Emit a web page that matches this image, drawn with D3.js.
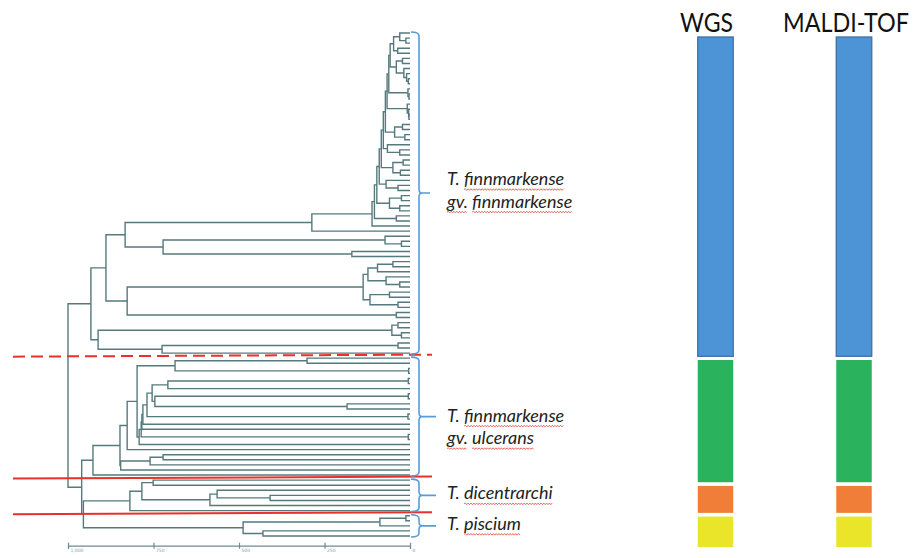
<!DOCTYPE html>
<html>
<head>
<meta charset="utf-8">
<script src="https://cdn.jsdelivr.net/npm/d3@7"></script>
<style>
  html, body { margin: 0; padding: 0; background: #ffffff; }
  svg { display: block; }
</style>
</head>
<body>
<svg id="chart" width="914" height="558"></svg>
<script>
// Distance-level axis of the MSP dendrogram
const distanceTicks = [1000, 750, 500, 250, 0];

// Clades of the dendrogram. Each internal node is [distance level, upper child, lower child];
// a leaf (one isolate) is 0, its own distance level.
const finnmarkenseClade =
[933,
  [889,
    [833,
      [287,
        [111,
          [104,
            [97,
              [90,
                [84,
                  [78,
                    [72,
                      [67,
                        [62,
                          [58,
                            [48, [30, 0, [12, 0, 0]], [36, 0, 0]],
                            [40, [22, 0, 0], [18, 0, [10, 0, [5, 0, 0]]]]
                          ],
                          [6, 0, [3, 0, 0]]
                        ],
                        [8, 0, [4, 0, [3, 0, 0]]]
                      ],
                      [45, [22, 0, 0], [15, 0, 0]]
                    ],
                    [66, 0, [30, 0, 0]]
                  ],
                  [50, [20, 0, 0], [28, 0, 0]]
                ],
                [70, 0, [35, 0, 0]]
              ],
              [60, [25, 0, 0], [30, 0, 0]]
            ],
            [40, 0, 0]
          ],
          0
        ],
        0
      ],
      [722, [73, 0, [25, 0, 0]], [170, 0, 0]]
    ],
    [827,
      [137,
        [123, [95, [50, 0, 0], 0], [70, 0, [30, 0, 0]]],
        [117, [60, 0, 0], [35, 0, 0]]
      ],
      [40, 0, 0]
    ]
  ],
  [912,
    [53, [35, 0, 0], [25, 0, 0]],
    [725, [35, 0, 0], 0]
  ]
];

const ulceransClade =
[927,
  [848,
    [827,
      [798,
        [687, [301, 0, 0], [4, 0, 0]],
        [792,
          [786,
            [784,
              [781,
                [769,
                  [754,
                    [708, [5, 0, 0], 0],
                    [746, [5, 0, 0], [184, 0, 0]]
                  ],
                  [6, 0, 0]
                ],
                0
              ],
              0
            ],
            [5, 0, 0]
          ],
          0
        ]
      ],
      0
    ],
    [846, [760, [722, 0, 0], 0], 0]
  ],
  0
];

const dicentrarchiClade = [819, [784, [751, 0, 0], [585, [564, 0, [409, 0, 0]], 0]], 0];

const pisciumClade = [488, [88, [12, 0, 0], 0], [430, 0, 0]];

// Distance levels at which the clades join, from the root inwards
const joinLevels = [1000, 960, 955];

// Text beside each clade bracket
const cladeLabels = [
  ["T. finnmarkense", "gv. finnmarkense"],
  ["T. finnmarkense", "gv. ulcerans"],
  ["T. dicentrarchi"],
  ["T. piscium"]
];

// Identification methods and the share of isolates (%) they assign to each clade
const methods = ["WGS", "MALDI-TOF"];
const wgsShare = [64, 24.5, 5.4, 6.1];
const maldiShare = [64, 24.5, 5.4, 6.1];

const cladeColors = ["#4d94d6", "#2bb25c", "#f07d38", "#ebe52a"];

// ---------------------------------------------------------------------------
const svg = d3.select("#chart");
const TREE_COLOR = "#56797e";
const BRACE_COLOR = "#5b9bd5";
const SEP_COLOR = "#e8312b";

const clades = [finnmarkenseClade, ulceransClade, dicentrarchiClade, pisciumClade];
const tree = [joinLevels[0], finnmarkenseClade,
              [joinLevels[1], ulceransClade,
                [joinLevels[2], dicentrarchiClade, pisciumClade]]];

const countLeaves = d => Array.isArray(d) ? countLeaves(d[1]) + countLeaves(d[2]) : 1;
const cladeSizes = clades.map(countLeaves);
const cladeStarts = cladeSizes.map((s, i) => d3.sum(cladeSizes.slice(0, i)));

const root = d3.hierarchy(tree, d => Array.isArray(d) ? d.slice(1) : null);
root.each(n => { n.level = Array.isArray(n.data) ? n.data[0] : 0; });

const leaves = root.leaves();
const yLeaf = d3.scalePoint().domain(d3.range(leaves.length)).range([33, 536]);
const xDist = d3.scaleLinear().domain([1000, 0]).range([68, 410]);

leaves.forEach((l, i) => { l.py = yLeaf(i); });
root.eachAfter(n => { if (n.children) n.py = d3.mean(n.children, c => c.py); });
root.each(n => { n.px = xDist(n.level); });

// Dendrogram branches (elbow joins)
const gTree = svg.append("g")
  .attr("fill", "none")
  .attr("stroke", TREE_COLOR)
  .attr("stroke-width", 1.4);

gTree.selectAll("path")
  .data(root.descendants().filter(n => n.children))
  .join("path")
  .attr("d", n => {
    const [a, b] = n.children;
    return `M${a.px},${a.py}H${n.px}V${b.py}H${b.px}`;
  });

// Distance-level axis
const gAxis = svg.append("g")
  .attr("transform", "translate(0,545.7)")
  .call(d3.axisBottom(xDist).tickValues(distanceTicks).tickSizeOuter(0).tickSize(3));
gAxis.select(".domain").attr("stroke", "#6f8c90").attr("stroke-width", 1.2);
gAxis.selectAll(".tick line").attr("y1", -3).attr("y2", 3).attr("stroke", "#6f8c90").attr("stroke-width", 1.2);
gAxis.selectAll(".tick text")
  .attr("text-anchor", "start")
  .attr("x", 2).attr("y", 3).attr("dy", "0.71em")
  .attr("fill", "#8a9a9c")
  .style("font", "4.5px 'DejaVu Sans', sans-serif");

// Clade extents along the leaf axis
const cladeSpan = cladeSizes.map((s, i) => {
  const first = yLeaf(cladeStarts[i]);
  const last = yLeaf(cladeStarts[i] + s - 1);
  return { first, last };
});

// Separator lines between clades
const seps = cladeSpan.slice(0, -1).map((c, i) => ({
  y: (c.last + cladeSpan[i + 1].first) / 2,
  dashed: i === 0
}));
svg.append("g").selectAll("line")
  .data(seps)
  .join("line")
  .attr("x1", 13).attr("x2", 432)
  .attr("y1", d => d.y + 1).attr("y2", d => d.y - 1)
  .attr("stroke", SEP_COLOR)
  .attr("stroke-width", 2)
  .attr("stroke-dasharray", d => d.dashed ? "12,6" : null);

// Curly brackets marking each clade
const braceX0 = 411, braceXV = 419, braceR = 4;
const tipX = [430, 436, 436, 436];
const braces = cladeSpan.map((c, i) => {
  const y0 = c.first - 1, y1 = c.last + 1, ym = (y0 + y1) / 2;
  return { y0, y1, ym, tip: tipX[i] };
});
svg.append("g")
  .attr("fill", "none")
  .attr("stroke", BRACE_COLOR)
  .attr("stroke-width", 1.6)
  .selectAll("path")
  .data(braces)
  .join("path")
  .attr("d", b => {
    const r = Math.min(braceR, (b.y1 - b.y0) / 4);
    return `M${braceX0},${b.y0}Q${braceXV},${b.y0} ${braceXV},${b.y0 + r}` +
           `V${b.ym - r}Q${braceXV},${b.ym} ${braceXV + 3},${b.ym}H${b.tip}` +
           `M${braceXV + 3},${b.ym}Q${braceXV},${b.ym} ${braceXV},${b.ym + r}` +
           `V${b.y1 - r}Q${braceXV},${b.y1} ${braceX0},${b.y1}`;
  });

// Clade labels, word by word so the names can carry a wavy underline
const LABEL_FONT = "italic 18px Lato, 'Open Sans', sans-serif";
const labelX = 447;
const labelShift = [-8, 5, 4, 4];
const lineGap = 22.5;
const gLab = svg.append("g");
const measure = svg.append("text")
  .style("font", LABEL_FONT)
  .attr("visibility", "hidden");
const textW = s => { measure.text(s); return measure.node().getComputedTextLength(); };
const spaceW = textW("a a") - textW("aa");

function squiggle(x0, x1, y) {
  let d = `M${x0},${y}`;
  let up = true;
  for (let x = x0 + 1.4; x <= x1; x += 1.4) {
    d += `L${x},${y + (up ? -0.8 : 0.8)}`;
    up = !up;
  }
  return d;
}

cladeLabels.forEach((lines, i) => {
  lines.forEach((line, j) => {
    const base = braces[i].ym + labelShift[i] + j * lineGap;
    let cx = labelX;
    line.split(" ").forEach(word => {
      const w = textW(word);
      gLab.append("text")
        .attr("x", cx).attr("y", base)
        .attr("fill", "#222222")
        .style("font", LABEL_FONT)
        .text(word);
      if (word !== "T.") {
        gLab.append("path")
          .attr("d", squiggle(cx, cx + w, base + 4.5))
          .attr("fill", "none")
          .attr("stroke", "#e2453c")
          .attr("stroke-width", 0.8);
      }
      cx += w + spaceW;
    });
  });
});
measure.remove();

// Stacked bars: clade shares per identification method
const shares = [wgsShare, maldiShare];
const xMethod = d3.scalePoint().domain(methods).range([715.5, 854]);
const barW = 35.5;
const barGap = 3.7;
const yShare = d3.scaleLinear().domain([0, 100]).range([37, 547 - barGap * 3]);

methods.forEach((m, mi) => {
  const vals = shares[mi];
  const cx = xMethod(m);
  let cum = 0;
  const segs = vals.map((v, i) => {
    const s = { y0: yShare(cum) + i * barGap, y1: yShare(cum + v) + i * barGap, i };
    cum += v;
    return s;
  });
  svg.append("g").selectAll("rect")
    .data(segs)
    .join("rect")
    .attr("x", cx - barW / 2)
    .attr("width", barW)
    .attr("y", s => s.y0)
    .attr("height", s => s.y1 - s.y0)
    .attr("fill", s => cladeColors[s.i])
    .attr("stroke", s => s.i === 0 ? "#3e6fa6" : "none")
    .attr("stroke-width", 1.3);
});

// Method titles above the bars, squeezed horizontally to a narrow title face
const titleDx = [-9, -8];
const titleWidth = [53, 126];
svg.append("g").selectAll("text")
  .data(methods)
  .join("text")
  .attr("text-anchor", "middle")
  .attr("fill", "#111111")
  .style("font", "26px Lato, 'Open Sans', sans-serif")
  .text(m => m)
  .each(function (m, i) {
    const natural = this.getComputedTextLength();
    const k = titleWidth[i] / natural;
    d3.select(this).attr("transform",
      `translate(${xMethod(m) + titleDx[i]},31.5) scale(${k},1)`);
  });
</script>
</body>
</html>
